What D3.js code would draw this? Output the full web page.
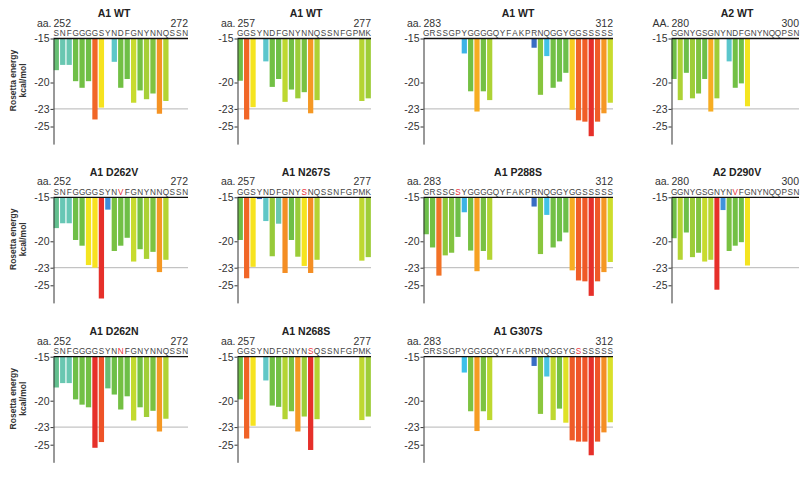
<!DOCTYPE html>
<html><head><meta charset="utf-8">
<script src="https://cdn.jsdelivr.net/npm/d3@7"></script>
<style>
body{margin:0;background:#fff;}
svg{display:block;font-family:"Liberation Sans",Arial,Helvetica,sans-serif;}
</style></head><body>
<svg id="chart" width="800" height="481"></svg>
<script>
// ---------- DATA ----------
const seqA1_252 = "SNFGGGGSYNDFGNYNNQSSN";
const seqA1_257 = "GGSYNDFGNYNNQSSNFGPMK";
const seqA1_283 = "GRSSGPYGGGGQYFAKPRNQGGYGGSSSSS";
const seqA2_280 = "GGNYGSGNYNDFGNYNQQPSN";
const seqD262V = "SNFGGGGSYNVFGNYNNQSSN";
const seqN267S = "GGSYNDFGNYSNQSSNFGPMK";
const seqP288S = "GRSSGSYGGGGQYFAKPRNQGGYGGSSSSS";
const seqD290V = "GGNYGSGNYNVFGNYNQQPSN";
const seqD262N = "SNFGGGGSYNNFGNYNNQSSN";
const seqN268S = "GGSYNDFGNYNSQSSNFGPMK";
const seqG307S = "GRSSGPYGGGGQYFAKPRNQGGYGSSSSSS";

// Rosetta energy (kcal/mol) per residue; null = no bar
const a1wt252 = [-18.6,-18.0,-18.0,-19.85,-20.6,-19.85,-24.2,-22.85,null,-17.65,-20.6,-19.6,-22.3,-20.9,-21.9,-21.25,-23.55,-22.1,null,null,null];
const a1wt257 = [-19.8,-24.2,-22.8,null,-17.6,-20.5,-19.6,-22.2,-20.8,-21.8,-21.1,-23.5,-22.0,null,null,null,null,null,null,-22.1,-21.8];
const a1wt283 = [null,null,null,null,null,null,-16.7,-21.0,-23.3,-21.0,-22.0,null,null,null,null,null,null,-16.05,-21.4,-17.0,-20.6,-19.9,-18.9,-23.1,-24.3,-24.45,-26.1,-24.45,-23.5,-22.3];
const a2wt280 = [-19.6,-22.0,-18.9,-21.8,-21.25,-19.6,-23.3,-21.8,null,-17.6,-20.6,-20.1,-22.7,null,null,null,null,null,null,null,null];
const a1D262V = [-18.5,-17.95,-17.95,-19.85,-20.5,-22.7,-23.0,-26.5,-16.4,-21.1,-20.5,-19.6,-22.3,-20.9,-22.0,-21.2,-23.5,-22.1,null,null,null];
const a1N267S = [-19.85,-24.2,-22.9,-15.2,-17.7,-21.7,-18.0,-23.6,-19.85,-21.75,-22.8,-23.6,-22.1,null,null,null,null,null,null,-22.2,-21.8];
const a1P288S = [-19.2,-20.7,-23.9,-21.6,-21.3,-19.5,-16.7,-21.05,-23.4,-21.1,-22.1,null,null,null,null,null,null,-16.05,-21.45,-17.0,-20.7,-20.0,-19.0,-23.3,-24.45,-24.55,-26.2,-24.55,-23.5,-22.35];
const a2D290V = [-19.65,-22.1,-19.0,-21.8,-21.3,-22.3,-22.1,-25.5,-16.45,-21.1,-20.5,-20.1,-22.75,null,null,null,null,null,null,null,null];
const a1D262N = [-18.5,-18.0,-18.0,-19.85,-20.45,-20.75,-25.35,-24.7,-18.6,-19.3,-21.0,-19.5,-22.25,-20.75,-21.85,-21.15,-23.5,-22.05,null,null,null];
const a1N268S = [-19.85,-24.3,-22.85,null,-17.7,-20.55,-20.7,-22.1,-21.2,-23.5,-21.8,-25.6,-22.1,null,null,null,null,null,null,-22.2,-21.8];
const a1G307S = [null,null,null,null,null,null,-16.8,-21.2,-23.45,-21.2,-22.2,null,null,null,null,null,null,-16.05,-21.5,-17.25,-22.2,-20.9,-22.5,-24.5,-24.65,-24.65,-26.2,-24.65,-23.6,-22.45];

const yTicks = [-15,-20,-23,-25];
const refLevel = -23;

// panel definitions
const panels = [
  {title:"A1 WT",    pre:"aa.", start:252, seq:seqA1_252, mut:-1, values:a1wt252, col:0,row:0},
  {title:"A1 WT",    pre:"aa.", start:257, seq:seqA1_257, mut:-1, values:a1wt257, col:1,row:0},
  {title:"A1 WT",    pre:"aa.", start:283, seq:seqA1_283, mut:-1, values:a1wt283, col:2,row:0},
  {title:"A2 WT",    pre:"AA.", start:280, seq:seqA2_280, mut:-1, values:a2wt280, col:3,row:0},
  {title:"A1 D262V", pre:"aa.", start:252, seq:seqD262V,  mut:10, values:a1D262V, col:0,row:1},
  {title:"A1 N267S", pre:"aa.", start:257, seq:seqN267S,  mut:10, values:a1N267S, col:1,row:1},
  {title:"A1 P288S", pre:"aa.", start:283, seq:seqP288S,  mut:5,  values:a1P288S, col:2,row:1},
  {title:"A2 D290V", pre:"aa.", start:280, seq:seqD290V,  mut:10, values:a2D290V, col:3,row:1},
  {title:"A1 D262N", pre:"aa.", start:252, seq:seqD262N,  mut:10, values:a1D262N, col:0,row:2},
  {title:"A1 N268S", pre:"aa.", start:257, seq:seqN268S,  mut:11, values:a1N268S, col:1,row:2},
  {title:"A1 G307S", pre:"aa.", start:283, seq:seqG307S,  mut:24, values:a1G307S, col:2,row:2}
];

// ---------- LAYOUT / STYLE ----------
const colX = [53.5, 237.5, 423.5, 671.5];
const colEnd = [188, 371, 613, 799];
const titleX = [114, 306, 518, 737];
const rowY = [38.5, 197.3, 356.7];
const unit = 8.8;

const color = d3.scaleLinear()
  .domain([-15.5,-16.1,-16.45,-16.8,-17.3,-17.7,-18.1,-18.5,-18.75,-21.0,-21.6,-22.1,-22.4,-22.65,-23.0,-23.15,-23.4,-23.9,-24.8,-25.3])
  .range(["#2f5fb8","#3a6fc4","#3f93dc","#3cc0ea","#4cc4e0","#60c7c6","#6cc7aa","#62bf8e","#6bbf4a","#74c043","#90c83c","#b4d433","#d2df2b","#f3e51f","#f8e21f","#f8c020","#f6a123","#f27226","#ee4f28","#e6302a"])
  .clamp(true);

const svg = d3.select("#chart");

// y-axis titles per row
rowY.forEach(y0 => {
  const cy = y0 + 42;
  svg.append("text").attr("transform",`translate(15.5,${cy}) rotate(-90)`)
    .attr("text-anchor","middle").attr("font-size",8.5).attr("font-weight","bold").attr("fill","#333")
    .text("Rosetta energy");
  svg.append("text").attr("transform",`translate(25.5,${cy}) rotate(-90)`)
    .attr("text-anchor","middle").attr("font-size",8.5).attr("font-weight","bold").attr("fill","#333")
    .text("kcal/mol");
});

panels.forEach(p => {
  const ax = colX[p.col], ex = colEnd[p.col], y0 = rowY[p.row];
  const n = p.seq.length;
  const residues = d3.range(p.start, p.start + n);
  const x = d3.scaleBand().domain(residues).range([ax, ex]).paddingInner(0.18).paddingOuter(0.02);
  const y = d3.scaleLinear().domain([-15,-27]).range([y0, y0 + 12*unit]);
  const g = svg.append("g");

  // reference line at -23
  g.append("line").attr("x1",ax).attr("x2",ex).attr("y1",y(refLevel)).attr("y2",y(refLevel))
    .attr("stroke","#b5b5b5").attr("stroke-width",1);

  // bars
  const data = p.values.map((v,i)=>({res:p.start+i, v})).filter(d=>d.v!==null);
  g.selectAll("rect.bar").data(data).join("rect").attr("class","bar")
    .attr("x",d=>x(d.res)).attr("width",x.bandwidth())
    .attr("y",y(-15)).attr("height",d=>y(d.v)-y(-15))
    .attr("fill",d=>color(d.v));

  // left axis
  const axis = d3.axisLeft(y).tickValues(yTicks).tickSize(3).tickSizeOuter(0).tickFormat(d=>String(d));
  const ag = g.append("g").attr("transform",`translate(${ax},0)`).call(axis);
  ag.select(".domain").attr("stroke","#333").attr("stroke-width",1);
  ag.selectAll(".tick line").attr("stroke","#333");
  ag.selectAll(".tick text").attr("font-size",10.5).attr("fill","#333").attr("x",-4)
    .attr("font-family",'"Liberation Sans",Arial,sans-serif');

  // baseline at -15
  g.append("line").attr("x1",ax).attr("x2",ex).attr("y1",y(-15)).attr("y2",y(-15))
    .attr("stroke","#111").attr("stroke-width",1.3);

  // sequence letters
  g.selectAll("text.seq").data(p.seq.split("")).join("text").attr("class","seq")
    .attr("x",(c,i)=>x(p.start+i)+x.bandwidth()/2).attr("y",y0-2.5)
    .attr("text-anchor","middle").attr("font-size",8.2)
    .attr("fill",(c,i)=> i===p.mut ? "#e8303a" : "#444")
    .text(c=>c);

  // residue range labels
  g.append("text").attr("x",ax-2).attr("y",y0-12).attr("text-anchor","end")
    .attr("font-size",10.5).attr("fill","#333").text(p.pre);
  g.append("text").attr("x",ax).attr("y",y0-12).attr("text-anchor","start")
    .attr("font-size",10.5).attr("fill","#333").text(p.start);
  g.append("text").attr("x",ex).attr("y",y0-12).attr("text-anchor","end")
    .attr("font-size",10.5).attr("fill","#333").text(p.start + n - 1);

  // title
  g.append("text").attr("x",titleX[p.col]).attr("y",y0-21.5).attr("text-anchor","middle")
    .attr("font-size",10.5).attr("font-weight","bold").attr("fill","#222").text(p.title);
});
</script>
</body></html>
